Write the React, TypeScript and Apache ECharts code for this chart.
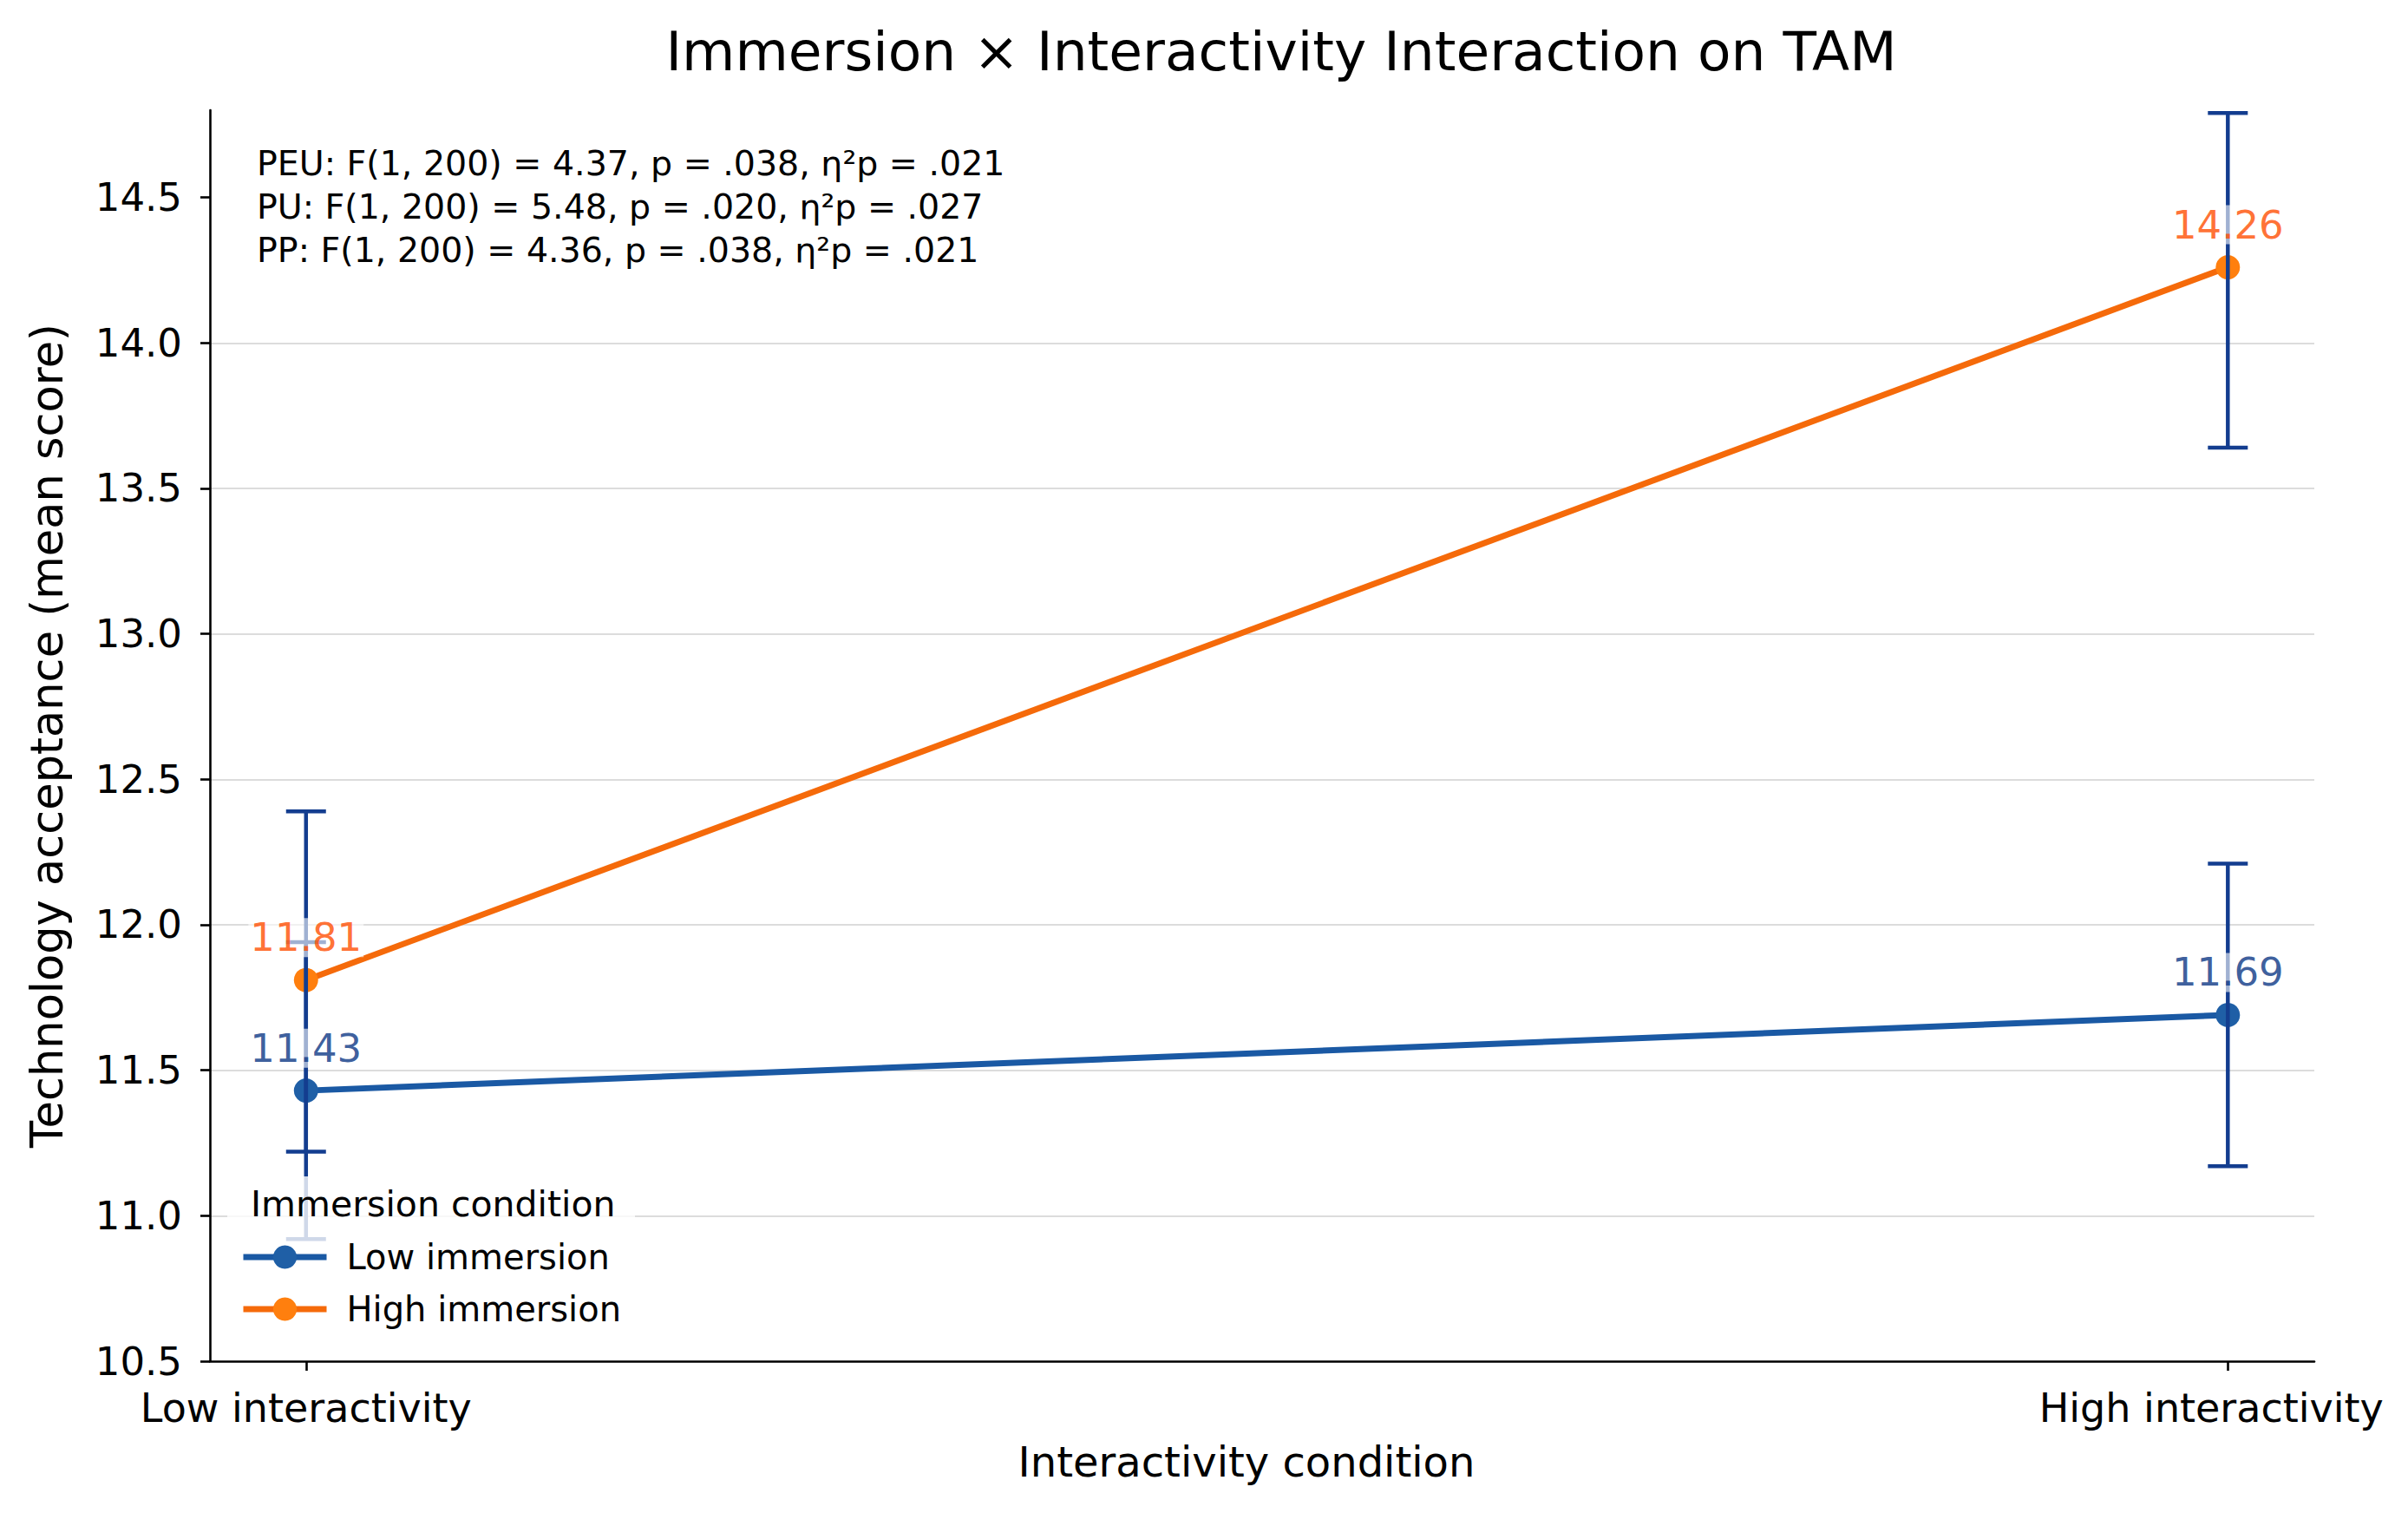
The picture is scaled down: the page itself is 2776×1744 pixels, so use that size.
import React, { useEffect, useRef } from "react";
import * as echarts from "echarts";

const categories = ["Low interactivity", "High interactivity"];
const xPositions = [0, 1];
const seriesNames = ["Low immersion", "High immersion"];
const lowImmersion = [11.43, 11.69];
const highImmersion = [11.81, 14.26];
const lowImmersionCI = [
  [10.92, 11.94],
  [11.17, 12.21],
];
const highImmersionCI = [
  [11.22, 12.39],
  [13.64, 14.79],
];
const yTicks = [10.5, 11.0, 11.5, 12.0, 12.5, 13.0, 13.5, 14.0, 14.5];
const statLines = [
  "PEU: F(1, 200) = 4.37, p = .038, η²p = .021",
  "PU: F(1, 200) = 5.48, p = .020, η²p = .027",
  "PP: F(1, 200) = 4.36, p = .038, η²p = .021",
];

const FONT = "DejaVu Sans";
const BLUE_LINE = "#1a59a4";
const BLUE_MARK = "#1f5fa6";
const ORANGE_LINE = "#f56a0a";
const ORANGE_MARK = "#ff7f0e";
const ERR = "#133d8f";
const BLUE_TEXT = "#0a3584";
const ORANGE_TEXT = "#ff4d00";

export default function App() {
  const ref = useRef<HTMLDivElement>(null);
  useEffect(() => {
    document.body.style.margin = "0";
    const chart = echarts.init(ref.current!, null, { renderer: "svg" });
    const errData: number[][] = [];
    xPositions.forEach((x, i) => {
      errData.push([x, highImmersionCI[i][0], highImmersionCI[i][1]]);
      errData.push([x, lowImmersionCI[i][0], lowImmersionCI[i][1]]);
    });
    const labelSeries = (values: number[], color: string) => ({
      type: "scatter",
      z: 5,
      symbolSize: 1,
      silent: true,
      itemStyle: { color: "rgba(0,0,0,0)" },
      data: xPositions.map((x, i) => [x, values[i]]),
      label: {
        show: true,
        position: "top",
        distance: 26,
        formatter: (p: any) => p.value[1].toFixed(2),
        fontSize: 45,
        fontFamily: FONT,
        color,
        backgroundColor: "rgba(255,255,255,0.75)",
        padding: [0, 2],
      },
    });
    const option: any = {
      animation: false,
      backgroundColor: "#ffffff",
      textStyle: { fontFamily: FONT },
      grid: { left: 242, right: 108, top: 127, bottom: 175, containLabel: false },
      xAxis: {
        type: "value",
        min: -0.05,
        max: 1.045,
        splitLine: { show: false },
        axisLine: { show: true, onZero: false, lineStyle: { color: "#000", width: 2.6 } },
        axisTick: { show: true, customValues: xPositions, length: 11, lineStyle: { color: "#000", width: 2.6 } },
        axisLabel: {
          customValues: xPositions,
          formatter: (v: number) => {
            const i = Math.round(v);
            return i === 1 ? `{hi|${categories[i]}}` : `{lo|${categories[i]}}`;
          },
          rich: {
            lo: { fontSize: 46, color: "#000", fontFamily: FONT },
            hi: { fontSize: 46, color: "#000", fontFamily: FONT, padding: [0, 38, 0, 0] },
          },
          fontSize: 46,
          color: "#000",
          margin: 31,
          fontFamily: FONT,
        },
        name: "Interactivity condition",
        nameLocation: "middle",
        nameGap: 92,
        nameTextStyle: { fontSize: 48, color: "#000", fontFamily: FONT, padding: [0, 36, 0, 0] },
      },
      yAxis: {
        type: "value",
        min: 10.5,
        max: 14.8,
        interval: 0.5,
        axisLine: { show: true, onZero: false, lineStyle: { color: "#000", width: 2.6 } },
        axisTick: { show: true, customValues: yTicks, length: 11, lineStyle: { color: "#000", width: 2.6 } },
        axisLabel: {
          customValues: yTicks,
          formatter: (v: number) => v.toFixed(1),
          fontSize: 45,
          color: "#000",
          margin: 32,
          fontFamily: FONT,
        },
        splitLine: { show: true, showMinLine: false, showMaxLine: false, lineStyle: { color: "#dcdcdc", width: 2 } },
        name: "Technology acceptance (mean score)",
        nameLocation: "middle",
        nameGap: 162,
        nameTextStyle: { fontSize: 51, color: "#000", fontFamily: FONT },
      },
      legend: {
        data: seriesNames,
        orient: "vertical",
        left: 272,
        top: 1424,
        itemWidth: 96,
        itemHeight: 34,
        itemGap: 20,
        z: 20,
        lineStyle: { width: 7 },
        textStyle: { fontSize: 40, color: "#000", fontFamily: FONT, padding: [0, 0, 0, 18] },
      },
      graphic: [
        {
          type: "rect",
          z: 10,
          shape: { x: 262, y: 1356, width: 470, height: 196 },
          style: { fill: "rgba(255,255,255,0.8)" },
        },
        {
          type: "text",
          z: 21,
          x: 289,
          y: 1388,
          style: {
            text: "Immersion condition",
            fontSize: 41,
            fontFamily: FONT,
            fill: "#000",
            verticalAlign: "middle",
          },
        },
        {
          type: "text",
          z: 21,
          x: 296,
          y: 163,
          style: {
            text: statLines.join("\n"),
            fontSize: 39.5,
            lineHeight: 50,
            fontFamily: FONT,
            fill: "#000",
          },
        },
      ],
      title: {
        text: "Immersion × Interactivity Interaction on TAM",
        left: 1472,
        top: 23,
        textAlign: "center",
        textStyle: { fontSize: 63, fontWeight: "normal", color: "#000", fontFamily: FONT },
      },
      series: [
        {
          name: seriesNames[0],
          type: "line",
          z: 2,
          data: xPositions.map((x, i) => [x, lowImmersion[i]]),
          symbol: "circle",
          symbolSize: 28,
          lineStyle: { color: BLUE_LINE, width: 7 },
          itemStyle: { color: BLUE_MARK },
        },
        {
          name: seriesNames[1],
          type: "line",
          z: 2,
          data: xPositions.map((x, i) => [x, highImmersion[i]]),
          symbol: "circle",
          symbolSize: 28,
          lineStyle: { color: ORANGE_LINE, width: 7 },
          itemStyle: { color: ORANGE_MARK },
        },
        {
          type: "custom",
          z: 3,
          silent: true,
          data: errData,
          renderItem: (params: any, api: any) => {
            const x = api.value(0);
            const lo = api.coord([x, api.value(1)]);
            const hi = api.coord([x, api.value(2)]);
            const hw = 23;
            const st = { stroke: ERR, lineWidth: 4.5 };
            return {
              type: "group",
              children: [
                { type: "line", shape: { x1: lo[0], y1: lo[1], x2: hi[0], y2: hi[1] }, style: st },
                { type: "line", shape: { x1: lo[0] - hw, y1: lo[1], x2: lo[0] + hw, y2: lo[1] }, style: st },
                { type: "line", shape: { x1: hi[0] - hw, y1: hi[1], x2: hi[0] + hw, y2: hi[1] }, style: st },
              ],
            };
          },
        },
        labelSeries(lowImmersion, BLUE_TEXT),
        labelSeries(highImmersion, ORANGE_TEXT),
      ],
    };
    chart.setOption(option);
    return () => chart.dispose();
  }, []);
  return <div ref={ref} style={{ width: 2776, height: 1744 }} />;
}
